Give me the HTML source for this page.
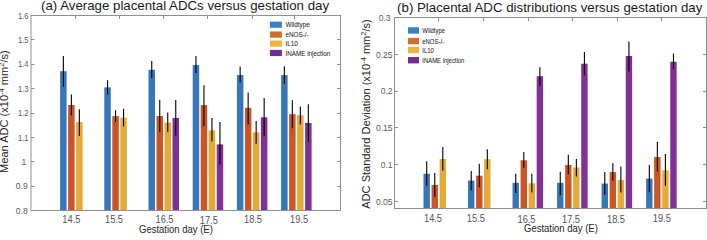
<!DOCTYPE html>
<html><head><meta charset="utf-8"><style>
html,body{margin:0;padding:0;background:#fff;width:707px;height:236px;overflow:hidden}
svg{display:block}
text{font-family:"Liberation Sans",sans-serif;fill:#262626}
.tk{font-size:9.3px;fill:#555}
.ytk{font-size:8.6px;fill:#5a5a5a}
.xl{font-size:9.5px}
.ti{font-size:13.27px;fill:#1a1a1a}
.yl{font-size:11.05px}
.sup{font-size:7.5px}
.lg{font-size:6.5px;fill:#1e1e1e;stroke:#1e1e1e;stroke-width:0.05px}
</style></head><body>
<svg width="707" height="236" viewBox="0 0 707 236">
<rect width="707" height="236" fill="#fff"/>
<rect x="60.10" y="71.20" width="6.50" height="139.30" fill="#3776B9"/>
<rect x="68.10" y="105.00" width="6.50" height="105.50" fill="#CD5523"/>
<rect x="76.10" y="122.00" width="6.50" height="88.50" fill="#E6AA37"/>
<rect x="104.30" y="87.30" width="6.50" height="123.20" fill="#3776B9"/>
<rect x="112.30" y="116.10" width="6.50" height="94.40" fill="#CD5523"/>
<rect x="120.30" y="117.60" width="6.50" height="92.90" fill="#E6AA37"/>
<rect x="148.50" y="69.80" width="6.50" height="140.70" fill="#3776B9"/>
<rect x="156.50" y="116.00" width="6.50" height="94.50" fill="#CD5523"/>
<rect x="164.50" y="122.50" width="6.50" height="88.00" fill="#E6AA37"/>
<rect x="172.50" y="118.00" width="6.50" height="92.50" fill="#803096"/>
<rect x="192.70" y="65.10" width="6.50" height="145.40" fill="#3776B9"/>
<rect x="200.70" y="105.10" width="6.50" height="105.40" fill="#CD5523"/>
<rect x="208.70" y="130.30" width="6.50" height="80.20" fill="#E6AA37"/>
<rect x="216.70" y="144.40" width="6.50" height="66.10" fill="#803096"/>
<rect x="236.90" y="75.10" width="6.50" height="135.40" fill="#3776B9"/>
<rect x="244.90" y="107.80" width="6.50" height="102.70" fill="#CD5523"/>
<rect x="252.90" y="132.30" width="6.50" height="78.20" fill="#E6AA37"/>
<rect x="260.90" y="117.30" width="6.50" height="93.20" fill="#803096"/>
<rect x="281.10" y="75.10" width="6.50" height="135.40" fill="#3776B9"/>
<rect x="289.10" y="114.20" width="6.50" height="96.30" fill="#CD5523"/>
<rect x="297.10" y="115.30" width="6.50" height="95.20" fill="#E6AA37"/>
<rect x="305.10" y="123.00" width="6.50" height="87.50" fill="#803096"/>
<line x1="63.35" y1="56.00" x2="63.35" y2="86.80" stroke="#000" stroke-width="1.1"/>
<line x1="71.35" y1="94.60" x2="71.35" y2="115.60" stroke="#000" stroke-width="1.1"/>
<line x1="79.35" y1="109.30" x2="79.35" y2="135.90" stroke="#000" stroke-width="1.1"/>
<line x1="107.55" y1="80.20" x2="107.55" y2="94.60" stroke="#000" stroke-width="1.1"/>
<line x1="115.55" y1="110.20" x2="115.55" y2="121.70" stroke="#000" stroke-width="1.1"/>
<line x1="123.55" y1="108.80" x2="123.55" y2="126.60" stroke="#000" stroke-width="1.1"/>
<line x1="151.75" y1="61.00" x2="151.75" y2="78.00" stroke="#000" stroke-width="1.1"/>
<line x1="159.75" y1="99.70" x2="159.75" y2="132.00" stroke="#000" stroke-width="1.1"/>
<line x1="167.75" y1="112.60" x2="167.75" y2="132.00" stroke="#000" stroke-width="1.1"/>
<line x1="175.75" y1="100.10" x2="175.75" y2="135.70" stroke="#000" stroke-width="1.1"/>
<line x1="195.95" y1="56.10" x2="195.95" y2="73.00" stroke="#000" stroke-width="1.1"/>
<line x1="203.95" y1="85.30" x2="203.95" y2="125.90" stroke="#000" stroke-width="1.1"/>
<line x1="211.95" y1="118.00" x2="211.95" y2="141.60" stroke="#000" stroke-width="1.1"/>
<line x1="219.95" y1="122.10" x2="219.95" y2="164.60" stroke="#000" stroke-width="1.1"/>
<line x1="240.15" y1="66.60" x2="240.15" y2="82.50" stroke="#000" stroke-width="1.1"/>
<line x1="248.15" y1="92.40" x2="248.15" y2="124.50" stroke="#000" stroke-width="1.1"/>
<line x1="256.15" y1="120.90" x2="256.15" y2="143.80" stroke="#000" stroke-width="1.1"/>
<line x1="264.15" y1="98.10" x2="264.15" y2="135.70" stroke="#000" stroke-width="1.1"/>
<line x1="284.35" y1="66.30" x2="284.35" y2="83.90" stroke="#000" stroke-width="1.1"/>
<line x1="292.35" y1="100.30" x2="292.35" y2="128.30" stroke="#000" stroke-width="1.1"/>
<line x1="300.35" y1="106.40" x2="300.35" y2="124.40" stroke="#000" stroke-width="1.1"/>
<line x1="308.35" y1="104.30" x2="308.35" y2="141.70" stroke="#000" stroke-width="1.1"/>
<rect x="31.00" y="15.50" width="309.50" height="195.00" fill="none" stroke="#8f8f8f" stroke-width="1"/>
<line x1="31.00" y1="15.50" x2="34.50" y2="15.50" stroke="#8f8f8f" stroke-width="1"/>
<line x1="337.00" y1="15.50" x2="340.50" y2="15.50" stroke="#8f8f8f" stroke-width="1"/>
<text transform="translate(28.55,18.70) scale(0.88,1.12)" text-anchor="end" class="ytk">1.6</text>
<line x1="31.00" y1="39.50" x2="34.50" y2="39.50" stroke="#8f8f8f" stroke-width="1"/>
<line x1="337.00" y1="39.50" x2="340.50" y2="39.50" stroke="#8f8f8f" stroke-width="1"/>
<text transform="translate(28.55,43.08) scale(0.88,1.12)" text-anchor="end" class="ytk">1.5</text>
<line x1="31.00" y1="64.50" x2="34.50" y2="64.50" stroke="#8f8f8f" stroke-width="1"/>
<line x1="337.00" y1="64.50" x2="340.50" y2="64.50" stroke="#8f8f8f" stroke-width="1"/>
<text transform="translate(28.55,67.45) scale(0.88,1.12)" text-anchor="end" class="ytk">1.4</text>
<line x1="31.00" y1="88.50" x2="34.50" y2="88.50" stroke="#8f8f8f" stroke-width="1"/>
<line x1="337.00" y1="88.50" x2="340.50" y2="88.50" stroke="#8f8f8f" stroke-width="1"/>
<text transform="translate(28.55,91.83) scale(0.88,1.12)" text-anchor="end" class="ytk">1.3</text>
<line x1="31.00" y1="113.50" x2="34.50" y2="113.50" stroke="#8f8f8f" stroke-width="1"/>
<line x1="337.00" y1="113.50" x2="340.50" y2="113.50" stroke="#8f8f8f" stroke-width="1"/>
<text transform="translate(28.55,116.20) scale(0.88,1.12)" text-anchor="end" class="ytk">1.2</text>
<line x1="31.00" y1="137.50" x2="34.50" y2="137.50" stroke="#8f8f8f" stroke-width="1"/>
<line x1="337.00" y1="137.50" x2="340.50" y2="137.50" stroke="#8f8f8f" stroke-width="1"/>
<text transform="translate(28.55,140.57) scale(0.88,1.12)" text-anchor="end" class="ytk">1.1</text>
<line x1="31.00" y1="161.50" x2="34.50" y2="161.50" stroke="#8f8f8f" stroke-width="1"/>
<line x1="337.00" y1="161.50" x2="340.50" y2="161.50" stroke="#8f8f8f" stroke-width="1"/>
<text transform="translate(26.25,164.95) scale(1,1.05)" text-anchor="end" class="ytk">1</text>
<line x1="31.00" y1="186.50" x2="34.50" y2="186.50" stroke="#8f8f8f" stroke-width="1"/>
<line x1="337.00" y1="186.50" x2="340.50" y2="186.50" stroke="#8f8f8f" stroke-width="1"/>
<text transform="translate(27.75,189.33) scale(1,1.05)" text-anchor="end" class="ytk">0.9</text>
<line x1="31.00" y1="210.50" x2="34.50" y2="210.50" stroke="#8f8f8f" stroke-width="1"/>
<line x1="337.00" y1="210.50" x2="340.50" y2="210.50" stroke="#8f8f8f" stroke-width="1"/>
<text transform="translate(27.75,213.70) scale(1,1.05)" text-anchor="end" class="ytk">0.8</text>
<line x1="75.50" y1="15.50" x2="75.50" y2="19.00" stroke="#8f8f8f" stroke-width="1"/>
<line x1="119.50" y1="15.50" x2="119.50" y2="19.00" stroke="#8f8f8f" stroke-width="1"/>
<line x1="163.50" y1="15.50" x2="163.50" y2="19.00" stroke="#8f8f8f" stroke-width="1"/>
<line x1="207.50" y1="15.50" x2="207.50" y2="19.00" stroke="#8f8f8f" stroke-width="1"/>
<line x1="252.50" y1="15.50" x2="252.50" y2="19.00" stroke="#8f8f8f" stroke-width="1"/>
<line x1="294.50" y1="15.50" x2="294.50" y2="19.00" stroke="#8f8f8f" stroke-width="1"/>
<text transform="translate(71.40,223.1) scale(1,1.12)" text-anchor="middle" class="tk">14.5</text>
<text transform="translate(114.00,223.1) scale(1,1.12)" text-anchor="middle" class="tk">15.5</text>
<text transform="translate(164.50,223.1) scale(1,1.12)" text-anchor="middle" class="tk">16.5</text>
<text transform="translate(208.80,223.6) scale(1,1.12)" text-anchor="middle" class="tk">17.5</text>
<text transform="translate(253.00,223.3) scale(1,1.12)" text-anchor="middle" class="tk">18.5</text>
<text transform="translate(299.10,222.8) scale(1,1.12)" text-anchor="middle" class="tk">19.5</text>
<text transform="translate(139.00,233.00) scale(1,1.18)" class="xl">Gestation day (E)</text>
<text x="41.00" y="10.3" class="ti">(a) Average placental ADCs versus gestation day</text>
<text transform="translate(8.40,111.60) rotate(-90)" text-anchor="middle" class="yl">Mean ADC (x10<tspan class="sup" dy="-4">-4</tspan><tspan dy="4"> mm</tspan><tspan class="sup" dy="-4">2</tspan><tspan dy="4">/s)</tspan></text>
<rect x="269.90" y="21.60" width="12.00" height="6.20" fill="#3C82C8"/>
<text transform="translate(285.50,27.20) scale(0.97,1)" class="lg" style="font-size:6.5px">Wildtype</text>
<rect x="269.90" y="31.50" width="12.00" height="6.20" fill="#CD6E32"/>
<text transform="translate(285.50,37.10) scale(0.97,1)" class="lg" style="font-size:6.5px">eNOS-/-</text>
<rect x="269.90" y="40.50" width="12.00" height="6.20" fill="#EBB43C"/>
<text transform="translate(285.50,46.10) scale(0.97,1)" class="lg" style="font-size:6.5px">IL10</text>
<rect x="269.90" y="49.90" width="12.00" height="6.20" fill="#732D96"/>
<text transform="translate(285.50,55.50) scale(0.97,1)" class="lg" style="font-size:6.5px">INAME injection</text>
<rect x="423.50" y="173.80" width="6.40" height="34.70" fill="#3776B9"/>
<rect x="431.55" y="185.00" width="6.40" height="23.50" fill="#CD5523"/>
<rect x="439.60" y="159.00" width="6.40" height="49.50" fill="#E6AA37"/>
<rect x="468.02" y="180.60" width="6.40" height="27.90" fill="#3776B9"/>
<rect x="476.07" y="175.70" width="6.40" height="32.80" fill="#CD5523"/>
<rect x="484.12" y="159.20" width="6.40" height="49.30" fill="#E6AA37"/>
<rect x="512.54" y="182.80" width="6.40" height="25.70" fill="#3776B9"/>
<rect x="520.59" y="160.30" width="6.40" height="48.20" fill="#CD5523"/>
<rect x="528.64" y="183.30" width="6.40" height="25.20" fill="#E6AA37"/>
<rect x="536.69" y="76.20" width="6.40" height="132.30" fill="#803096"/>
<rect x="557.06" y="182.80" width="6.40" height="25.70" fill="#3776B9"/>
<rect x="565.11" y="165.00" width="6.40" height="43.50" fill="#CD5523"/>
<rect x="573.16" y="167.50" width="6.40" height="41.00" fill="#E6AA37"/>
<rect x="581.21" y="63.70" width="6.40" height="144.80" fill="#803096"/>
<rect x="601.58" y="183.60" width="6.40" height="24.90" fill="#3776B9"/>
<rect x="609.63" y="172.10" width="6.40" height="36.40" fill="#CD5523"/>
<rect x="617.68" y="180.10" width="6.40" height="28.40" fill="#E6AA37"/>
<rect x="625.73" y="56.00" width="6.40" height="152.50" fill="#803096"/>
<rect x="646.10" y="178.60" width="6.40" height="29.90" fill="#3776B9"/>
<rect x="654.15" y="157.00" width="6.40" height="51.50" fill="#CD5523"/>
<rect x="662.20" y="170.30" width="6.40" height="38.20" fill="#E6AA37"/>
<rect x="670.25" y="61.70" width="6.40" height="146.80" fill="#803096"/>
<line x1="426.70" y1="161.20" x2="426.70" y2="185.70" stroke="#000" stroke-width="1.1"/>
<line x1="434.75" y1="173.10" x2="434.75" y2="196.90" stroke="#000" stroke-width="1.1"/>
<line x1="442.80" y1="147.10" x2="442.80" y2="170.80" stroke="#000" stroke-width="1.1"/>
<line x1="471.22" y1="170.90" x2="471.22" y2="190.40" stroke="#000" stroke-width="1.1"/>
<line x1="479.27" y1="163.70" x2="479.27" y2="187.40" stroke="#000" stroke-width="1.1"/>
<line x1="487.32" y1="149.30" x2="487.32" y2="169.20" stroke="#000" stroke-width="1.1"/>
<line x1="515.74" y1="173.80" x2="515.74" y2="193.00" stroke="#000" stroke-width="1.1"/>
<line x1="523.79" y1="152.10" x2="523.79" y2="167.70" stroke="#000" stroke-width="1.1"/>
<line x1="531.84" y1="173.80" x2="531.84" y2="192.50" stroke="#000" stroke-width="1.1"/>
<line x1="539.89" y1="67.20" x2="539.89" y2="85.80" stroke="#000" stroke-width="1.1"/>
<line x1="560.26" y1="171.70" x2="560.26" y2="195.20" stroke="#000" stroke-width="1.1"/>
<line x1="568.31" y1="154.80" x2="568.31" y2="174.30" stroke="#000" stroke-width="1.1"/>
<line x1="576.36" y1="158.90" x2="576.36" y2="176.40" stroke="#000" stroke-width="1.1"/>
<line x1="584.41" y1="51.90" x2="584.41" y2="75.30" stroke="#000" stroke-width="1.1"/>
<line x1="604.78" y1="172.00" x2="604.78" y2="194.60" stroke="#000" stroke-width="1.1"/>
<line x1="612.83" y1="163.20" x2="612.83" y2="180.70" stroke="#000" stroke-width="1.1"/>
<line x1="620.88" y1="166.60" x2="620.88" y2="192.40" stroke="#000" stroke-width="1.1"/>
<line x1="628.93" y1="41.60" x2="628.93" y2="71.60" stroke="#000" stroke-width="1.1"/>
<line x1="649.30" y1="165.10" x2="649.30" y2="192.20" stroke="#000" stroke-width="1.1"/>
<line x1="657.35" y1="142.10" x2="657.35" y2="171.50" stroke="#000" stroke-width="1.1"/>
<line x1="665.40" y1="154.00" x2="665.40" y2="185.80" stroke="#000" stroke-width="1.1"/>
<line x1="673.45" y1="53.60" x2="673.45" y2="69.20" stroke="#000" stroke-width="1.1"/>
<rect x="394.50" y="17.50" width="312.00" height="191.00" fill="none" stroke="#8f8f8f" stroke-width="1"/>
<line x1="394.50" y1="17.50" x2="398.00" y2="17.50" stroke="#8f8f8f" stroke-width="1"/>
<line x1="703.00" y1="17.50" x2="706.50" y2="17.50" stroke="#8f8f8f" stroke-width="1"/>
<text transform="translate(390.65,20.80) scale(1,1.05)" text-anchor="end" class="ytk">0.3</text>
<line x1="394.50" y1="54.50" x2="398.00" y2="54.50" stroke="#8f8f8f" stroke-width="1"/>
<line x1="703.00" y1="54.50" x2="706.50" y2="54.50" stroke="#8f8f8f" stroke-width="1"/>
<text transform="translate(392.65,57.56) scale(1,1.05)" text-anchor="end" class="ytk">0.25</text>
<line x1="394.50" y1="91.50" x2="398.00" y2="91.50" stroke="#8f8f8f" stroke-width="1"/>
<line x1="703.00" y1="91.50" x2="706.50" y2="91.50" stroke="#8f8f8f" stroke-width="1"/>
<text transform="translate(392.65,94.32) scale(1,1.05)" text-anchor="end" class="ytk">0.2</text>
<line x1="394.50" y1="127.50" x2="398.00" y2="127.50" stroke="#8f8f8f" stroke-width="1"/>
<line x1="703.00" y1="127.50" x2="706.50" y2="127.50" stroke="#8f8f8f" stroke-width="1"/>
<text transform="translate(392.65,131.08) scale(1,1.05)" text-anchor="end" class="ytk">0.15</text>
<line x1="394.50" y1="164.50" x2="398.00" y2="164.50" stroke="#8f8f8f" stroke-width="1"/>
<line x1="703.00" y1="164.50" x2="706.50" y2="164.50" stroke="#8f8f8f" stroke-width="1"/>
<text transform="translate(392.65,167.84) scale(1,1.05)" text-anchor="end" class="ytk">0.1</text>
<line x1="394.50" y1="201.50" x2="398.00" y2="201.50" stroke="#8f8f8f" stroke-width="1"/>
<line x1="703.00" y1="201.50" x2="706.50" y2="201.50" stroke="#8f8f8f" stroke-width="1"/>
<text transform="translate(392.65,204.60) scale(1,1.05)" text-anchor="end" class="ytk">0.05</text>
<line x1="438.50" y1="17.50" x2="438.50" y2="21.00" stroke="#8f8f8f" stroke-width="1"/>
<line x1="483.50" y1="17.50" x2="483.50" y2="21.00" stroke="#8f8f8f" stroke-width="1"/>
<line x1="528.50" y1="17.50" x2="528.50" y2="21.00" stroke="#8f8f8f" stroke-width="1"/>
<line x1="572.50" y1="17.50" x2="572.50" y2="21.00" stroke="#8f8f8f" stroke-width="1"/>
<line x1="617.50" y1="17.50" x2="617.50" y2="21.00" stroke="#8f8f8f" stroke-width="1"/>
<line x1="661.50" y1="17.50" x2="661.50" y2="21.00" stroke="#8f8f8f" stroke-width="1"/>
<text transform="translate(433.00,222.4) scale(1,1.12)" text-anchor="middle" class="tk">14.5</text>
<text transform="translate(475.90,222.4) scale(1,1.12)" text-anchor="middle" class="tk">15.5</text>
<text transform="translate(526.50,222.8) scale(1,1.12)" text-anchor="middle" class="tk">16.5</text>
<text transform="translate(571.00,223.0) scale(1,1.12)" text-anchor="middle" class="tk">17.5</text>
<text transform="translate(616.00,222.8) scale(1,1.12)" text-anchor="middle" class="tk">18.5</text>
<text transform="translate(661.80,222.1) scale(1,1.12)" text-anchor="middle" class="tk">19.5</text>
<text transform="translate(524.00,231.70) scale(1,1.18)" class="xl">Gestation day (E)</text>
<text x="397.10" y="12.35" class="ti">(b) Placental ADC distributions versus gestation day</text>
<text transform="translate(369.50,114.00) rotate(-90)" text-anchor="middle" class="yl">ADC Standard Deviation (x10<tspan class="sup" dy="-4">-4</tspan><tspan dy="4"> mm</tspan><tspan class="sup" dy="-4">2</tspan><tspan dy="4">/s)</tspan></text>
<rect x="408.00" y="27.25" width="11.00" height="6.40" fill="#3C82C8"/>
<text transform="translate(422.30,32.95) scale(0.94,1)" class="lg" style="font-size:6.3px">Wildtype</text>
<rect x="408.00" y="37.90" width="11.00" height="6.40" fill="#CD6E32"/>
<text transform="translate(422.30,43.60) scale(0.94,1)" class="lg" style="font-size:6.3px">eNOS-/-</text>
<rect x="408.00" y="46.80" width="11.00" height="6.40" fill="#EBB43C"/>
<text transform="translate(422.30,52.50) scale(0.94,1)" class="lg" style="font-size:6.3px">IL10</text>
<rect x="408.00" y="57.00" width="11.00" height="6.40" fill="#732D96"/>
<text transform="translate(422.30,62.70) scale(0.94,1)" class="lg" style="font-size:6.3px">INAME injection</text>
</svg>
</body></html>
